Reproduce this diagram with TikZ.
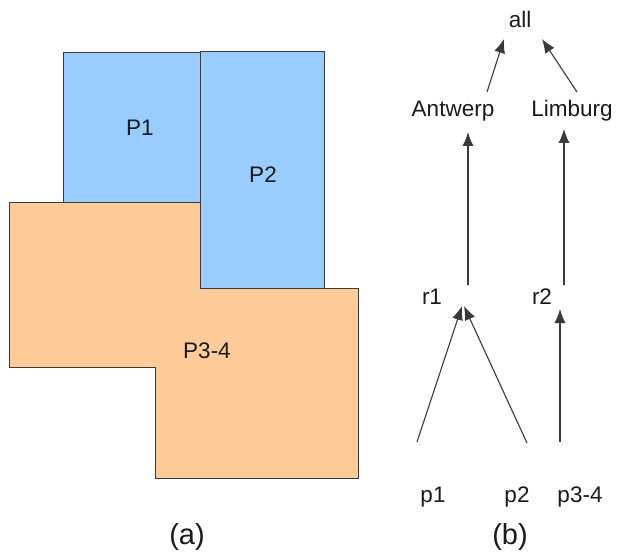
\documentclass[tikz,border=0pt]{standalone}
\usepackage{fontspec}
\setmainfont{Liberation Sans}
\usetikzlibrary{arrows.meta}
\definecolor{regblue}{HTML}{99CCFF}
\definecolor{regorange}{HTML}{FFCC99}
\definecolor{edgegray}{HTML}{3A3A3A}
\definecolor{txt}{HTML}{1A1A1A}
\tikzset{
  region/.style={draw=edgegray, line width=1pt, line join=miter},
  lbl/.style={text=txt, font=\fontsize{22.5}{26}\selectfont, inner sep=0pt},
  captext/.style={text=txt, font=\fontsize{29}{33}\selectfont, inner sep=0pt},
  arr/.style={draw=edgegray, line width=1.1pt, -{Latex[length=14pt,width=11pt]}}
}
\begin{document}
\begin{tikzpicture}[x=1pt,y=-1pt]
\useasboundingbox (0,0) rectangle (621,559);
\fill[white] (0,0) rectangle (621,559);
% (a) regions
\path[region, fill=regblue] (63,53) rectangle (200,202);
\path[region, fill=regblue] (200,52) rectangle (324,288);
\path[region, fill=regorange] (9,202) -- (200,202) -- (200,288) -- (358,288) -- (358,478) -- (155,478) -- (155,367) -- (9,367) -- cycle;
\node[lbl] (P1) at (140,128) {P1};
\node[lbl] (P2) at (263,175) {P2};
\node[lbl] (P34) at (207,351) {P3-4};
\node[captext] (capa) at (187,537) {(a)};
% (b) hierarchy
\node[lbl] (all) at (520,19) {all};
\node[lbl] (antwerp) at (453,111) {Antwerp};
\node[lbl] (limburg) at (572,111) {Limburg};
\node[lbl] (r1) at (432,297) {r1};
\node[lbl] (r2) at (542,297) {r2};
\node[lbl] (p1) at (433,497) {p1};
\node[lbl] (p2) at (517,497) {p2};
\node[lbl] (p34) at (580,497) {p3-4};
\node[captext] (capb) at (510,537) {(b)};
% arrow end points
\coordinate (aA) at (487,92);
\coordinate (aAt) at (504,39);
\coordinate (aL) at (577,92);
\coordinate (aLt) at (542,39);
\coordinate (r1o) at (468,285);
\coordinate (r1t) at (468,132);
\coordinate (r2o) at (564,285);
\coordinate (r2t) at (564,129);
\coordinate (p1o) at (417,442);
\coordinate (p1t) at (462,306);
\coordinate (p2o) at (527,443);
\coordinate (p2t) at (464,306);
\coordinate (p34o) at (560,442);
\coordinate (p34t) at (560,309);
\draw[arr] (aA) -- (aAt);
\draw[arr] (aL) -- (aLt);
\draw[arr] (r1o) -- (r1t);
\draw[arr] (r2o) -- (r2t);
\draw[arr] (p1o) -- (p1t);
\draw[arr] (p2o) -- (p2t);
\draw[arr] (p34o) -- (p34t);
\end{tikzpicture}
\end{document}
